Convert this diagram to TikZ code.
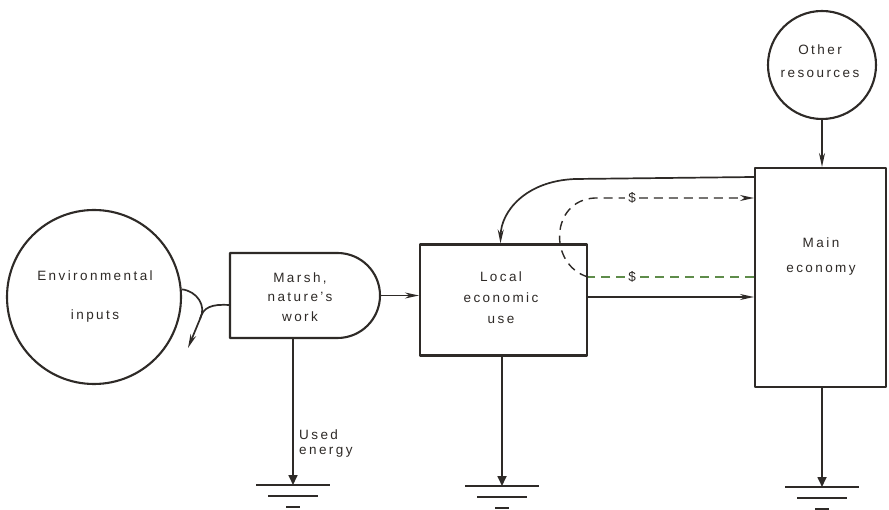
\documentclass[tikz,border=0pt]{standalone}
\usepackage{fontspec}
\setmainfont{Liberation Sans}[LetterSpace=18]
\usetikzlibrary{arrows.meta,shapes.misc}
\definecolor{ink}{HTML}{2E2A27}
\definecolor{dashgreen}{HTML}{5E8C4A}
\begin{document}
\begin{tikzpicture}[x=1pt,y=-1pt,line join=round,
  every node/.style={text=ink},
  lbl/.style={font=\fontsize{13.5}{#1}\selectfont, align=center, inner sep=0pt},
  lbl/.default=20,
  box/.style={draw=ink, line width=2.1pt, inner sep=0pt},
  flow/.style={draw=ink, line width=1.7pt},
  money/.style={line width=1.4pt, dash pattern=on 9pt off 6pt},
  >={Stealth[length=14pt,width=6pt]},
  sinktip/.style={-{Triangle[length=10pt,width=9pt]}},
  ground/.pic={\draw[ink,line width=1.4pt] (-37,0) -- (37,0) (-25,11) -- (25,11) (-7,22) -- (7,22);}
]
\useasboundingbox (0,0) rectangle (889,510);
\fill[white] (0,0) rectangle (889,510);

% shapes
\node[box, circle, minimum size=174pt] (env) at (94,297) {};
\node[box, rounded rectangle, rounded rectangle left arc=none,
      minimum width=150pt, minimum height=85pt] (marsh) at (305,295.5) {};
\node[box, rectangle, minimum width=167pt, minimum height=111pt] (local) at (503.5,300) {};
\node[box, rectangle, minimum width=131pt, minimum height=219pt] (main) at (820.5,277.5) {};
\node[box, circle, minimum size=108pt] (other) at (822,65) {};

% texts
\node[lbl=39] (envtxt) at (95,297) {Environmental\\inputs};
\node[lbl=19.5] (marshtxt) at (300,297) {Marsh,\\nature's\\work};
\node[lbl=21] (localtxt) at (501,298) {Local\\economic\\use};
\node[lbl=25] (maintxt) at (821,257) {Main\\economy};
\node[lbl=23] (othertxt) at (820,61) {Other\\resources};
\node[lbl=15, align=left, anchor=west] (usedtxt) at (299,444) {Used\\energy};

% ground coordinates
\coordinate (g1) at (293,485);
\coordinate (g2) at (502,486);
\coordinate (g3) at (822,487);
\coordinate (j) at (200,319);
\coordinate (tipA) at (188,348);

% environmental inputs to marsh
\draw[flow] (env.5) .. controls (197,291) and (207,306) .. (j);
\draw[flow,->] (j) -- (tipA);
\draw[flow] (j) .. controls (203,307) and (212,304) .. (marsh.west |- 0,305);

% flows
\draw[flow,->] (marsh.east) -- (marsh.east -| local.west);
\draw[flow,->] (local.east |- 0,297) -- (main.west |- 0,297);
\draw[flow,->] (other.south) -- (other.south |- main.north);
\draw[flow,->] (main.west |- 0,177) -- (575,179)
   .. controls (525,181) and (501,212) .. ([xshift=-3pt]local.north);

% money flows
\node[lbl, fill=white, inner xsep=3pt] (d1) at (632,198) {\$};
\node[lbl, fill=white, inner xsep=3pt] (d2) at (632,277) {\$};
\draw[money, draw=dashgreen] (main.west |- 0,277) -- (d2) -- (local.east |- 0,277);
\draw[money, draw=ink, ->] (local.east |- 0,277) .. controls (548,265) and (550,200) .. (595,198)
   -- (d1) -- (main.west |- 0,198);
\node[lbl, fill=white, inner xsep=3pt] at (d1) {\$};
\node[lbl, fill=white, inner xsep=3pt] at (d2) {\$};

% sinks
\draw[flow,sinktip] (marsh.south -| g1) -- (g1);
\draw[flow,sinktip] (local.south -| g2) -- (g2);
\draw[flow,sinktip] (main.south -| g3) -- (g3);
\pic at (g1) {ground};
\pic at (g2) {ground};
\pic at (g3) {ground};
\end{tikzpicture}
\end{document}
